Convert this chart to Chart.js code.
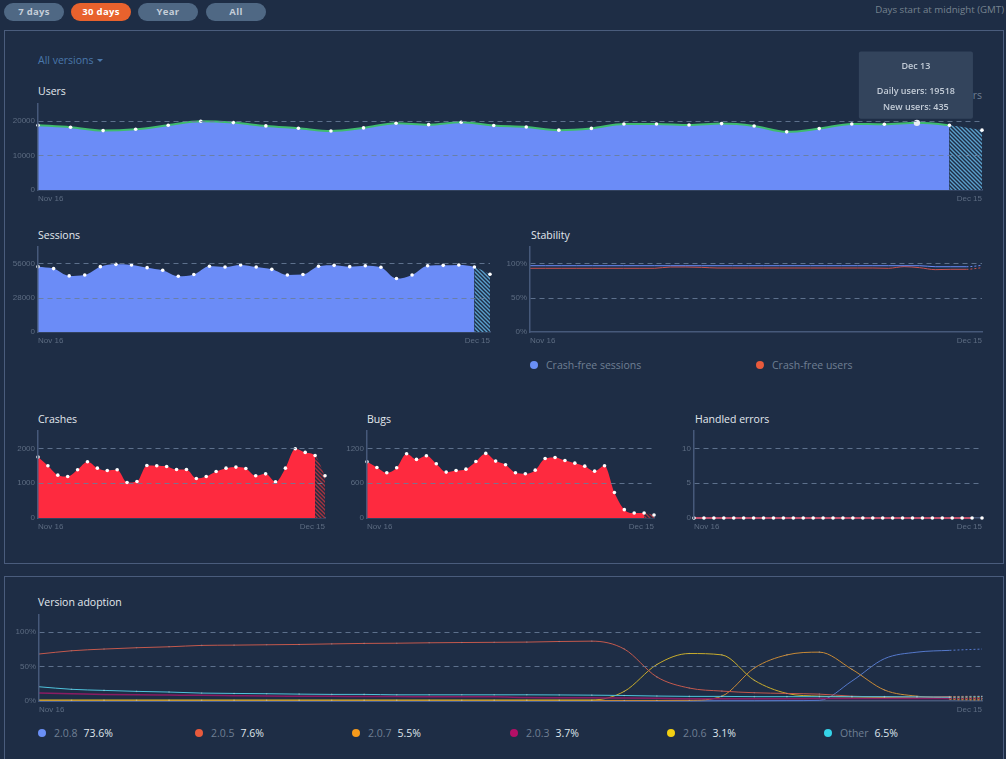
<!DOCTYPE html>
<html>
<head>
<meta charset="utf-8">
<title>Dashboard</title>
<script src="https://cdn.jsdelivr.net/npm/chart.js@4/dist/chart.umd.min.js"></script>
<style>
html, body { margin: 0; padding: 0; background: #1e2d45; width: 1006px; height: 759px; overflow: hidden; font-family: "Open Sans", sans-serif; }
.abs { position: absolute; white-space: nowrap; }
.panel { position: absolute; left: 4px; width: 1000px; border: 1px solid #4a5c7c; box-sizing: border-box; }
.pill { position: absolute; top: 3px; width: 60px; height: 18px; border-radius: 9px; background: #4f6884; color: #c5ced8; font-size: 9.5px; font-weight: 700; line-height: 18px; text-align: center; letter-spacing: .3px; }
.pill.on { background: #e8622d; color: #fff; }
.title { color: #e3e8ee; font-size: 10.5px; line-height: 14px; }
.dot { position: absolute; width: 8px; height: 8px; border-radius: 50%; }
.legend { color: #6f7f93; font-size: 10.5px; line-height: 14px; }
.legend b { color: #dfe5ec; font-weight: 500; margin-left: 6px; }
canvas { position: absolute; }
</style>
</head>
<body>
<div class="pill" style="left:4px">7 days</div>
<div class="pill on" style="left:71px">30 days</div>
<div class="pill" style="left:138px">Year</div>
<div class="pill" style="left:206px">All</div>
<div class="abs" style="right:2px;top:3px;color:#76838f;font-size:9.7px;line-height:14px">Days start at midnight (GMT)</div>

<div class="panel" style="top:30px;height:534px"></div>
<div class="panel" style="top:576px;height:200px"></div>

<div class="abs" style="left:38px;top:53px;color:#4a78ab;font-size:10.5px;line-height:14px">All versions
  <span style="display:inline-block;margin-left:1px;border:3.5px solid transparent;border-top:3.5px solid #4a78ab;border-bottom:0;vertical-align:2px"></span></div>
<div class="abs title" style="left:38px;top:84px">Users</div>
<div class="abs legend" style="right:24px;top:88px">New users</div>
<div class="abs title" style="left:38px;top:228px">Sessions</div>
<div class="abs title" style="left:531px;top:228px">Stability</div>
<div class="abs title" style="left:38px;top:412px">Crashes</div>
<div class="abs title" style="left:367px;top:412px">Bugs</div>
<div class="abs title" style="left:695px;top:412px">Handled errors</div>
<div class="abs title" style="left:38px;top:595px">Version adoption</div>

<div id="legends"></div>

<canvas id="users-chart"></canvas>
<canvas id="sessions-chart"></canvas>
<canvas id="stability-chart"></canvas>
<canvas id="crashes-chart"></canvas>
<canvas id="bugs-chart"></canvas>
<canvas id="handled-chart"></canvas>
<canvas id="adoption-chart"></canvas>

<script>
const days = ['Nov 16','Nov 17','Nov 18','Nov 19','Nov 20','Nov 21','Nov 22','Nov 23','Nov 24','Nov 25','Nov 26','Nov 27','Nov 28','Nov 29','Nov 30',
    'Dec 1','Dec 2','Dec 3','Dec 4','Dec 5','Dec 6','Dec 7','Dec 8','Dec 9','Dec 10','Dec 11','Dec 12','Dec 13','Dec 14','Dec 15'];

const usersValues = [18830,18240,17270,17660,18830,20000,19600,18630,17950,17170,18050,19410,19000,19700,18730,18300,17400,17900,19200,19200,18900,19300,18600,16900,17850,19200,19100,19518,18800,17400];
const sessionsValues = [53800,52200,46200,47000,53800,55700,55200,53000,50800,45900,47300,54100,53500,55200,53500,51600,47000,47300,54100,54900,53800,54600,53300,44000,47000,54600,54900,55200,53500,47600];
const crashesValues = [1750,1500,1231,1192,1385,1615,1433,1365,1385,1019,1048,1510,1500,1481,1394,1394,1135,1192,1337,1433,1462,1423,1212,1269,1038,1433,1990,1885,1798,1212];
const bugsValues = [969,871,779,866,1108,1010,1073,935,791,819,842,975,1114,981,917,779,762,825,1027,1044,992,946,894,808,900,439,144,87,87,52];
const handledValues = [0,0,0,0,0,0,0,0,0,0,0,0,0,0,0,0,0,0,0,0,0,0,0,0,0,0,0,0,0,0];

const crashFreeSessions = [97.5,97.5,97.5,97.5,97.5,97.5,97.5,97.5,97.5,97.5,97.5,97.5,97.5,97.5,97.5,97.5,97.5,97.5,97.5,97.5,97.5,97.5,97.5,97.5,97.5,97.5,96,96,96,98];
const crashFreeUsers = [93.7,93.7,93.7,93.7,93.7,93.7,93.7,93.7,93.7,95.6,95.6,95.1,94.1,94.1,94.1,94.1,94.1,94.1,94.1,94.1,94.1,94.1,94.1,93.7,96.1,94.6,91.7,92.2,92.2,94.6];

const adoption208 = [0,0,0,0,0,0,0,0,0,0,0,0,0,0,0,0,0,0,0,0,0,0.3,0.3,0.5,1,29,61.5,71,73.6,75.5];
const adoption205 = [68.3,73,75.5,77.4,78.8,80.8,81.2,81.7,82.2,83,83.7,84,84.6,85,85.3,85.6,86.5,87,75.5,35,18.8,14.4,12,11,10,7,6,5.8,6.5,7];
const adoption207 = [0.8,0.8,0.8,0.8,0.8,0.8,0.8,0.8,0.8,0.8,0.8,0.8,0.8,0.8,0.8,0.8,0.8,0.8,0.8,0.8,1,7,48,67,71,46,16,7,4.5,3.5];
const adoption203 = [11.5,10.6,9.6,9,8.6,8.2,7.7,7.2,7,6.8,6.6,6.4,6.2,6,6,5,4.8,4.6,4.4,4,3.4,3.4,3.4,3.4,3.5,3.5,3.6,3.6,3.7,3.7];
const adoption206 = [1.5,1.5,1.5,1.5,1.5,1.5,1.5,1.5,1.5,1.5,1.5,1.5,1.5,1.5,1.5,1.5,1.5,1.5,14,53,69,67,30,11,7,6,5,4,3.5,3.1];
const adoptionOther = [20.7,17,15.4,14,13,11.5,11,10.6,10,9.6,9.6,9,9,9,9,9,8.8,8.5,8,7.2,6.7,6.7,6.3,6.3,6.3,6.3,6.3,6,5.5,6.5];

const usersTicks = [0,10000,20000];
const sessionsTicks = [0,28000,56000];
const percentTicks = [0,50,100];
const crashesTicks = [0,1000,2000];
const bugsTicks = [0,600,1200];
const handledTicks = [0,5,10];

const versionNames = ['2.0.8','2.0.5','2.0.7','2.0.3','2.0.6','Other'];
const versionShares = ['73.6%','7.6%','5.5%','3.7%','3.1%','6.5%'];
const versionColors = ['#6a8ff5','#e85a3c','#f59a1c','#b30f66','#f2cf12','#35d3e8'];

const BG = '#1e2d45';
const BLUE = '#6b8cf7';
const RED = '#fe2a3f';
const AXIS = '#46597a';
const GRID = 'rgba(104,124,153,0.85)';
const TICK = '#5d6c82';
const LAST = days.length - 1;

Chart.defaults.font.family = '"Liberation Sans", sans-serif';
Chart.defaults.font.size = 8;
Chart.defaults.animation = false;
Chart.defaults.devicePixelRatio = 1;

function hatch(color) {
    const tile = document.createElement('canvas');
    tile.width = 4;
    tile.height = 4;
    const g = tile.getContext('2d');
    g.fillStyle = BG;
    g.fillRect(0, 0, 4, 4);
    g.strokeStyle = color;
    g.lineWidth = 1.4;
    g.beginPath();
    g.moveTo(-1, -1); g.lineTo(5, 5);
    g.moveTo(-1, 3); g.lineTo(1, 5);
    g.moveTo(3, -1); g.lineTo(5, 1);
    g.stroke();
    return g.createPattern(tile, 'repeat');
}

Chart.Tooltip.positioners.aboveHover = function (items) {
    if (!items.length) return false;
    return { x: items[0].element.x - 1, y: items[0].element.y };
};

// box = the plot area in page pixels, the canvas is grown around it
function plotChart(id, box, yTicks, yMax, datasets, extra = {}) {
    const padLeft = box.padLeft ?? 36;
    const padTop = box.padTop ?? 12;
    const padRight = 8;
    const padBottom = 18;
    const canvas = document.getElementById(id);
    canvas.width = box.right - box.left + padLeft + padRight;
    canvas.height = box.bottom - box.top + padTop + padBottom;
    canvas.style.left = (box.left - padLeft) + 'px';
    canvas.style.top = (box.top - padTop) + 'px';

    return new Chart(canvas, {
        type: 'line',
        data: { labels: days, datasets },
        options: {
            responsive: false,
            layout: { padding: { top: padTop, right: padRight } },
            plugins: Object.assign({ legend: { display: false }, tooltip: { enabled: false } }, extra.plugins),
            elements: { line: { cubicInterpolationMode: 'monotone' } },
            scales: {
                x: {
                    offset: false,
                    afterFit: (scale) => { scale.height = padBottom; },
                    grid: { display: false, drawTicks: false },
                    border: { color: AXIS, width: 1.5 },
                    ticks: {
                        autoSkip: false,
                        maxRotation: 0,
                        align: 'inner',
                        padding: 4,
                        color: TICK,
                        callback: (value, index) => (index === 0 || index === LAST ? days[index] : ''),
                    },
                },
                y: {
                    min: 0,
                    max: yMax,
                    afterFit: (scale) => { scale.width = padLeft; },
                    afterBuildTicks: (scale) => { scale.ticks = yTicks.map((value) => ({ value })); },
                    grid: {
                        z: 1,
                        drawTicks: false,
                        lineWidth: 1,
                        color: (ctx) => (ctx.tick && ctx.tick.value === 0 ? 'rgba(0,0,0,0)' : GRID),
                    },
                    // border goes after the grid, it reads a position the grid pass computes
                    border: { color: AXIS, width: 1.5, dash: [5, 4], z: 2 },
                    ticks: {
                        padding: 3,
                        color: TICK,
                        callback: extra.yFormat ?? ((value) => value),
                    },
                },
            },
        },
    });
}

function areaSet(values, fillColor, hatchColor, lineColor) {
    const tail = hatch(hatchColor);
    return {
        data: values,
        clip: false,
        fill: 'origin',
        backgroundColor: fillColor,
        borderColor: lineColor ?? 'rgba(0,0,0,0)',
        borderWidth: lineColor ? 2 : 0,
        pointRadius: 1.8,
        pointBorderWidth: 0,
        pointBackgroundColor: '#ffffff',
        pointHoverRadius: 3.2,
        pointHoverBackgroundColor: '#e8edf4',
        pointHoverBorderWidth: 0,
        segment: {
            backgroundColor: (ctx) => (ctx.p1DataIndex === LAST ? tail : undefined),
            borderColor: (ctx) => (ctx.p1DataIndex === LAST ? 'rgba(0,0,0,0)' : undefined),
        },
    };
}

function thinLine(values, color, width, pointColor, tailWidth) {
    return {
        data: values,
        clip: false,
        fill: false,
        borderColor: color,
        borderWidth: width,
        pointRadius: pointColor ? 0.8 : 0,
        pointBorderWidth: 0,
        pointBackgroundColor: pointColor,
        segment: {
            borderDash: (ctx) => (ctx.p1DataIndex === LAST ? [2, 2] : undefined),
            borderWidth: (ctx) => (tailWidth && ctx.p1DataIndex === LAST ? tailWidth : undefined),
        },
    };
}

const percent = (value) => value + '%';

const usersChart = plotChart('users-chart', { left: 38, right: 982, top: 104, bottom: 190, padTop: 64 }, usersTicks, 25000,
    [areaSet(usersValues, BLUE, '#5aa0cc', '#3fbb6e')],
    {
        plugins: {
            tooltip: {
                enabled: true,
                position: 'aboveHover',
                xAlign: 'center',
                yAlign: 'bottom',
                caretSize: 0,
                caretPadding: 4,
                displayColors: false,
                backgroundColor: '#33445c',
                cornerRadius: 2,
                padding: { left: 18, right: 18, top: 10, bottom: 6 },
                titleColor: '#c3ccd7',
                titleFont: { family: '"Open Sans"', size: 9, weight: 600 },
                titleAlign: 'center',
                titleMarginBottom: 14,
                bodyColor: '#c3ccd7',
                bodyFont: { family: '"Open Sans"', size: 9, weight: 600 },
                bodyAlign: 'center',
                bodySpacing: 5,
                callbacks: {
                    title: () => 'Dec 13',
                    label: () => ['Daily users: 19518', 'New users: 435'],
                },
            },
        },
    });

plotChart('sessions-chart', { left: 38, right: 490, top: 247, bottom: 332 }, sessionsTicks, 70000,
    [areaSet(sessionsValues, BLUE, '#5aa0cc')]);

plotChart('stability-chart', { left: 530, right: 982, top: 247, bottom: 332 }, percentTicks, 125,
    [thinLine(crashFreeSessions, BLUE, 1, null), thinLine(crashFreeUsers, '#c9524e', 1, null)],
    { yFormat: percent });

plotChart('crashes-chart', { left: 38, right: 325, top: 431, bottom: 518 }, crashesTicks, 2500,
    [areaSet(crashesValues, RED, '#a5343f')]);

plotChart('bugs-chart', { left: 367, right: 654, top: 431, bottom: 518 }, bugsTicks, 1500,
    [areaSet(bugsValues, RED, '#a5343f')]);

plotChart('handled-chart', { left: 694, right: 982, top: 431, bottom: 518 }, handledTicks, 12.5,
    [areaSet(handledValues, RED, '#a5343f', '#c2506c')]);

plotChart('adoption-chart', { left: 39, right: 982, top: 615, bottom: 701 }, percentTicks, 125,
    [
        thinLine(adoptionOther, '#4fc3dc', 1, 'rgba(255,255,255,0.35)'),
        thinLine(adoption203, '#8a1c63', 1.5, null),
        thinLine(adoption205, '#c4594d', 1, 'rgba(255,255,255,0.2)'),
        thinLine(adoption206, '#c9ad2c', 1, 'rgba(255,255,255,0.25)'),
        thinLine(adoption207, '#c98a36', 1, 'rgba(255,255,255,0.25)', 4),
        thinLine(adoption208, '#5579cc', 1, null),
    ],
    { yFormat: percent });

// the hovered day in the reference
usersChart.setActiveElements([{ datasetIndex: 0, index: 27 }]);
usersChart.tooltip.setActiveElements([{ datasetIndex: 0, index: 27 }], { x: 0, y: 0 });
usersChart.update('none');

function addLegend(name, share, color, x, y) {
    const holder = document.getElementById('legends');
    const dot = document.createElement('div');
    dot.className = 'dot';
    dot.style.cssText = `left:${x}px;top:${y - 4}px;background:${color}`;
    const label = document.createElement('div');
    label.className = 'abs legend';
    label.style.cssText = `left:${x + 16}px;top:${y - 7}px`;
    label.textContent = name;
    if (share) {
        const strong = document.createElement('b');
        strong.textContent = share;
        label.appendChild(strong);
    }
    holder.append(dot, label);
}

addLegend('Crash-free sessions', null, '#6a8ff5', 530, 365);
addLegend('Crash-free users', null, '#e85a3c', 756, 365);
const legendX = [38, 195, 352, 510, 667, 824];
versionNames.forEach((name, i) => addLegend(name, versionShares[i], versionColors[i], legendX[i], 733));
</script>
</body>
</html>
